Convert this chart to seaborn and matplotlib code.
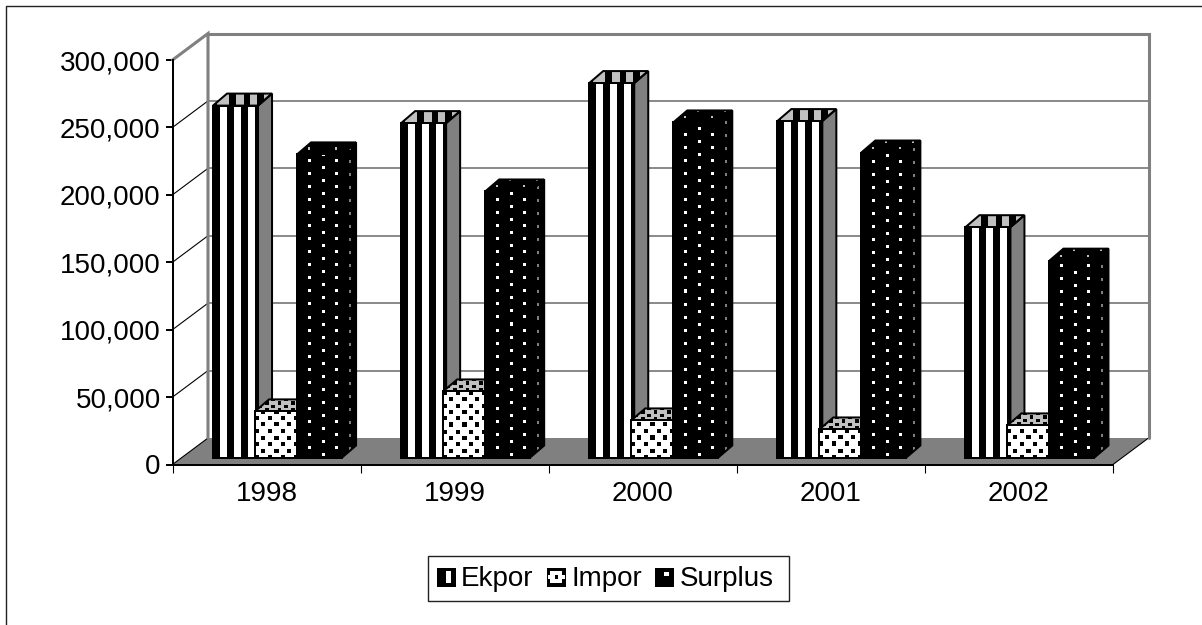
import numpy as np
import pandas as pd
import seaborn as sns
import matplotlib
matplotlib.use("Agg")
import matplotlib.pyplot as plt
from matplotlib.lines import Line2D
from matplotlib.patches import Polygon, Rectangle
from matplotlib.ticker import FixedLocator, FuncFormatter

years = ["1998", "1999", "2000", "2001", "2002"]
series_names = ["Ekpor", "Impor", "Surplus"]
ekpor = [261000, 248000, 277700, 249500, 170800]
impor = [34200, 49000, 27500, 20800, 23800]
surplus = [224800, 197300, 248500, 226200, 146000]
y_ticks = [0, 50000, 100000, 150000, 200000, 250000, 300000]

W, H = 1202, 625
GRAY, LIGHT = "#808080", "#c0c0c0"

sns.set_theme(style="white")
plt.rcParams["font.family"] = ["Liberation Sans", "DejaVu Sans"]

df = pd.DataFrame({
    "year": years * 3,
    "series": np.repeat(series_names, len(years)),
    "value": ekpor + impor + surplus,
})

fig = plt.figure(figsize=(W / 100, H / 100), dpi=100, facecolor="white")
L, R, T, B = 172.5, 1113, 60, 464.5
ax = fig.add_axes([L / W, 1 - B / H, (R - L) / W, (B - T) / H])
ax.patch.set_alpha(0)

sns.barplot(data=df, x="year", y="value", hue="series", hue_order=series_names,
            palette=["white", "white", "black"], width=3 * 42 / 188, gap=0,
            dodge=True, legend=False, edgecolor="black", linewidth=1.44,
            saturation=1, ax=ax)
ax.set_xlim(-0.5, 4.5)
ax.set_ylim(0, 300000)
ax.set_xlabel("")
ax.set_ylabel("")

PX = 5 / (R - L)
PY = 300000 / (B - T)
DX, DY = 35.5 * PX, 26.5 * PY     # wall depth
OX, OY = 11 * PX, 7 * PY          # bar base inset on floor
BX, BY = 14 * PX, 12 * PY         # bar depth
LW2 = 1.44
x0, x1, ymax = -0.5, 4.5, 300000

# floor, walls and gridlines
ax.add_patch(Polygon([(x0, 0), (x0 + DX, DY), (x1 + DX, DY), (x1, 0)], closed=True,
                     fc=GRAY, ec="none", zorder=1, clip_on=False))
for yv in y_ticks[1:-1]:
    ax.plot([x0 + DX, x1 + DX], [yv + DY, yv + DY], color=GRAY, lw=1.3, zorder=1.2,
            clip_on=False, solid_capstyle="butt")
for yv in y_ticks[:-1]:
    ax.plot([x0, x0 + DX], [yv, yv + DY], color="black", lw=0.8, zorder=1.3, clip_on=False)
ax.plot([x1, x1 + DX], [0, DY], color="black", lw=0.8, zorder=1.3, clip_on=False)
ax.plot([x0, x0 + DX, x0 + DX], [ymax, ymax + DY, DY], color=GRAY, lw=2.2, zorder=1.4,
        clip_on=False, solid_joinstyle="miter")
ax.plot([x0 + DX, x1 + DX, x1 + DX], [ymax + DY, ymax + DY, DY], color=GRAY, lw=2.2,
        zorder=1.4, clip_on=False, solid_joinstyle="miter")


def rgb(c):
    return np.array(matplotlib.colors.to_rgb(c))


def stripes(w, h, on, off, period=13.4, duty=7.0):
    yy, xx = np.mgrid[0:h, 0:w]
    mask = (xx % period) < duty
    return np.where(mask[..., None], rgb(on), rgb(off))


def dots(w, h, bg, fg, colsp, vper, size=3, phase_x=0.0, phase_y=0.0):
    yy, xx = np.mgrid[0:h, 0:w]
    yb = h - 1 - yy
    col = np.floor((xx + phase_x) / colsp).astype(int)
    cellx = (xx + phase_x) % colsp
    celly = (yb + phase_y + (col % 2) * vper / 2) % vper
    mask = (cellx < size) & (celly < size)
    return np.where(mask[..., None], rgb(fg), rgb(bg))


def place(img, xa, xb, ya, yb, z, clip=None):
    im = ax.imshow(img, extent=(xa, xb, ya, yb), origin="upper", aspect="auto",
                   interpolation="nearest", zorder=z)
    if clip is not None:
        im.set_clip_path(clip)
    else:
        im.set_clip_on(False)
    return im


z = 3.0
for cat in range(len(years)):
    for s, cont in enumerate(ax.containers[:3]):
        bar = cont.patches[cat]
        v = bar.get_height()
        xa = bar.get_x() + OX - 1.5 * PX
        w = bar.get_width() + 3 * PX
        xb = xa + w
        bar.set_x(xa)
        bar.set_width(w)
        bar.set_y(OY)
        ya, yb = OY, OY + v
        ec = dict(ec="black", lw=LW2, clip_on=False, joinstyle="miter")
        side_fc = "black" if s == 2 else GRAY
        top_fc = LIGHT if s == 1 else "black"
        side = Polygon([(xb, ya), (xb + BX, ya + BY), (xb + BX, yb + BY), (xb, yb)], closed=True,
                       fc=side_fc, ec="none", zorder=z, clip_on=False)
        top = Polygon([(xa, yb), (xa + BX, yb + BY), (xb + BX, yb + BY), (xb, yb)], closed=True,
                      fc=top_fc, ec="none", zorder=z, clip_on=False)
        ax.add_patch(side)
        ax.add_patch(top)
        wpx, hpx = int(round(w / PX)), int(round(v / PY))
        if s == 0:
            t_img = np.roll(stripes(wpx + 14, 12, LIGHT, "black"), 9, axis=1)
            place(t_img, xa, xb + BX, yb, yb + BY, z + 0.1, clip=top)
            f_img = stripes(wpx, hpx, "black", "white")
        elif s == 1:
            t_img = dots(wpx + 14, 12, LIGHT, "black", 6.3, 7, size=3.5, phase_x=3, phase_y=1)
            place(t_img, xa, xb + BX, yb, yb + BY, z + 0.1, clip=top)
            f_img = dots(wpx, hpx, "white", "black", 6.3, 12.6, size=4, phase_x=0.5, phase_y=2.5)
        else:
            t_img = dots(wpx + 14, 12, "black", LIGHT, 13, 13, size=2, phase_x=2, phase_y=3)
            place(t_img, xa, xb + BX, yb, yb + BY, z + 0.1, clip=top)
            s_img = dots(15, hpx + 12, "black", GRAY, 13, 13, size=3, phase_x=6)
            place(s_img, xb, xb + BX, ya, yb + BY, z + 0.1, clip=side)
            f_img = dots(wpx, hpx, "black", "white", 13, 13, size=3, phase_x=2, phase_y=12)
        for poly in (top, side):
            ax.add_patch(Polygon(poly.get_xy(), closed=True, fc="none", zorder=z + 0.2, **ec))
        bar.set_zorder(z + 0.3)
        bar.set_clip_on(False)
        place(f_img, xa, xb, ya, yb, z + 0.4)
        ax.add_patch(Rectangle((xa, ya), w, v, fc="none", zorder=z + 0.5, **ec))
        z += 1

ax.set_xlim(-0.5, 4.5)
ax.set_ylim(0, 300000)

# axes
for sp in ("top", "right"):
    ax.spines[sp].set_visible(False)
for sp in ("left", "bottom"):
    ax.spines[sp].set_color("black")
    ax.spines[sp].set_linewidth(1.44)
ax.set_yticks(y_ticks)
ax.yaxis.set_major_formatter(FuncFormatter(lambda v, _: f"{int(v):,}"))
ax.tick_params(axis="y", which="major", left=True, length=5, width=1.44, pad=3.5,
               labelsize=20, colors="black")
ax.set_xticks(range(len(years)), years)
ax.tick_params(axis="x", which="major", bottom=False, length=0, pad=12, labelsize=20,
               colors="black")
ax.xaxis.set_minor_locator(FixedLocator(np.arange(-0.5, 5, 1.0)))
ax.tick_params(axis="x", which="minor", bottom=True, length=6, width=0.8, color="black")

# chart-area border (left and top only reach the image edges)
fig.add_artist(Line2D([5.5 / W, 5.5 / W, 1], [0, 1 - 5.5 / H, 1 - 5.5 / H], color="#222222", lw=1.0))

# legend frame
fig.add_artist(Rectangle((427.5 / W, 1 - 600.5 / H), 361 / W, 45 / H, fc="white", ec="#222222",
                         lw=1.0, transform=fig.transFigure, zorder=1))


class Key:
    def __init__(self, kind):
        self.kind = kind


class KeyHandler:
    def legend_artist(self, legend, orig, fontsize, box):
        x, y = box.xdescent, box.ydescent
        w, h = box.width, box.height
        tr = box.get_transform()
        rect = lambda a, b, c, d, col: Rectangle((x + a * w, y + b * h), c * w, d * h, fc=col, ec="none",
                                                 transform=tr)
        box.add_artist(rect(0, 0, 1, 1, "black"))
        if orig.kind == 0:
            box.add_artist(rect(0.48, 0.2, 0.3, 0.6, "white"))
        elif orig.kind == 1:
            box.add_artist(rect(0.2, 0.2, 0.6, 0.6, "white"))
            box.add_artist(rect(0.05, 0.4, 0.9, 0.2, "white"))
            box.add_artist(rect(0.42, 0.42, 0.18, 0.18, "black"))
        else:
            box.add_artist(rect(0.5, 0.55, 0.22, 0.2, "white"))
        return None


keys = [Key(0), Key(1), Key(2)]
leg = fig.legend(keys, series_names, handler_map={Key: KeyHandler()},
                 loc="center", bbox_to_anchor=(605 / W, 1 - 579.5 / H), ncols=3,
                 fontsize=20, frameon=False, handlelength=0.68, handleheight=0.68,
                 handletextpad=0.2, columnspacing=0.47, borderpad=0.38,
                 borderaxespad=0, labelcolor="black")
leg.set_zorder(2)

fig.savefig("out.png", dpi=100, facecolor="white")
